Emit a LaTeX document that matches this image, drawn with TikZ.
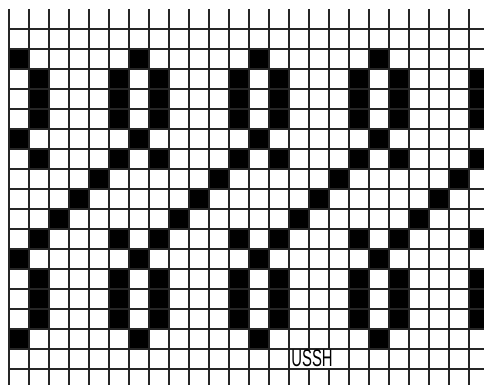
\documentclass[tikz,border=0pt]{standalone}
\usepackage{graphicx}
\usepackage{fontspec}
\setmainfont{Liberation Sans}

\begin{document}
\begin{tikzpicture}[x=1pt,y=-1pt]
\tikzset{cellbox/.style={fill=black},
  gridline/.style={line width=1.5pt,black!85}}
\useasboundingbox (0,0) rectangle (484,385);
\clip (0,0) rectangle (484,385);

% black cells: centre column of each motif
\foreach \k in {0,...,3}
  \foreach \r in {2,6,12,16}
    \fill[cellbox] ({9+120*\k},{9+20*\r}) rectangle +(20,20);

% black cells: the two side columns
\foreach \k in {0,...,4}
  \foreach \r in {3,4,5,7,11,13,14,15} {
    \ifnum\k>0
      \fill[cellbox] ({9+120*\k-20},{9+20*\r}) rectangle +(20,20);
    \fi
    \fill[cellbox] ({9+120*\k+20},{9+20*\r}) rectangle +(20,20);
  }

% black cells: diagonal strokes
\foreach \k in {0,...,3}
  \foreach \r/\c in {8/4,9/3,10/2}
    \fill[cellbox] ({9+120*\k+20*\c},{9+20*\r}) rectangle +(20,20);

% grid lines
\foreach \i in {0,...,23}
  \draw[gridline] ({9+20*\i},9) -- ({9+20*\i},385);
\foreach \j in {0,...,17}
  \draw[gridline] (9,{29+20*\j}) -- (484,{29+20*\j});

% label
\node[fill=white,inner sep=0.5pt] (tag) at (312,358.5)
  {\scalebox{0.62}[1]{\fontsize{24}{24}\selectfont USSH}};

\end{tikzpicture}
\end{document}
